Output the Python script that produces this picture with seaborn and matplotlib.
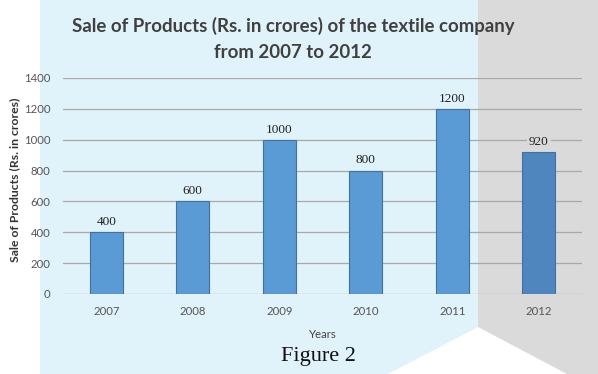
import matplotlib
matplotlib.use("Agg")
import matplotlib.pyplot as plt
import seaborn as sns
import pandas as pd
from matplotlib.patches import Polygon

# data
years = ['2007', '2008', '2009', '2010', '2011', '2012']
sales = [400, 600, 1000, 800, 1200, 920]
bar_colors = ['#5A9BD5', '#5A9BD5', '#5A9BD5', '#5A9BD5', '#5A9BD5', '#4F86BE']
yticks = [0, 200, 400, 600, 800, 1000, 1200, 1400]

BLUE_BG = '#E0F2FA'
GRAY_BG = '#DADADA'
W, H = 598, 374

sns.set_theme(style='white')
plt.rcParams['font.family'] = ['Lato', 'DejaVu Sans']

df = pd.DataFrame({'Year': years, 'Sales': sales})

fig = plt.figure(figsize=(W / 100, H / 100), dpi=100)
fig.patch.set_facecolor('white')


def px(x, y):
    # pixel coords (origin top-left) -> figure fraction
    return (x / W, 1 - y / H)


# background panels: light blue on the left, gray on the right, white notch at the bottom
blue = Polygon([px(40, 0), px(478, 0), px(478, 327), px(388, 374), px(40, 374)],
               closed=True, transform=fig.transFigure, facecolor=BLUE_BG, edgecolor='none', zorder=-5)
gray = Polygon([px(478, 0), px(598, 0), px(598, 374), px(567, 374), px(478, 327)],
               closed=True, transform=fig.transFigure, facecolor=GRAY_BG, edgecolor='none', zorder=-5)
fig.patches.extend([blue, gray])

ax = fig.add_axes([63 / W, 1 - 294 / H, (582 - 63) / W, (294 - 78) / H])
ax.set_zorder(2)
ax.set_facecolor('none')

sns.barplot(data=df, x='Year', y='Sales', hue='Year', palette=bar_colors, legend=False,
            width=0.38, edgecolor='#41719C', linewidth=0.8, saturation=1, ax=ax)

ax.set_ylim(0, 1400)
ax.set_xlim(-0.5, len(years) - 0.5)
ax.set_yticks(yticks)
ax.set_axisbelow(True)
ax.yaxis.grid(True, color='#A9A9A9', linewidth=0.9)
ax.xaxis.grid(False)
sns.despine(ax=ax, left=True, bottom=True)
ax.tick_params(axis='both', length=0, labelsize=8.2, labelcolor='#555555')
ax.tick_params(axis='y', pad=9)
ax.tick_params(axis='x', pad=8.5)

ax.set_xlabel('Years', fontsize=8.2, color='#444444', labelpad=8.5)
ax.set_ylabel('')

# value labels in serif above the bars, boxed in the background colour
for c in ax.containers:
    for t in ax.bar_label(c, fmt='%d', padding=3):
        last = t.get_text() == str(sales[-1])
        t.set_fontfamily(['Liberation Serif', 'DejaVu Serif'])
        t.set_fontsize(9.5)
        t.set_color('#222222')
        t.set_bbox(dict(facecolor=GRAY_BG if last else BLUE_BG, edgecolor='none', pad=1.5))

fig.text(293 / W, 1 - 39 / H,
         'Sale of Products (Rs. in crores) of the textile company\nfrom 2007 to 2012',
         ha='center', va='center', fontsize=13.4, fontweight='bold', color='#404040',
         linespacing=1.7)

fig.text(15 / W, 1 - 180 / H, 'Sale of Products (Rs. in crores)', rotation=90,
         ha='center', va='center', fontsize=8.8, fontweight='bold', color='#333333')

fig.text(318 / W, 1 - 356 / H, 'Figure 2', ha='center', va='center', fontsize=16,
         color='#111111', family=['Liberation Serif', 'DejaVu Serif'])

fig.savefig('out.png', dpi=100)
